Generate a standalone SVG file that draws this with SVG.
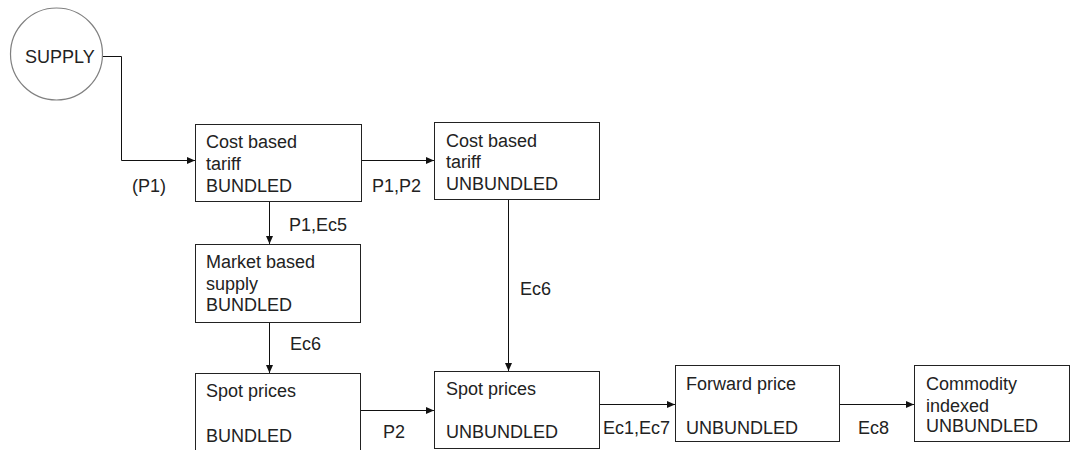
<svg xmlns="http://www.w3.org/2000/svg" width="1072" height="450" viewBox="0 0 1072 450">
  <style>
    .box { fill: #ffffff; stroke: #222222; stroke-width: 1; }
    .t { font-family: "Liberation Sans", Arial, sans-serif; font-size: 18px; fill: #222222; }
    .c { fill: none; stroke: #111111; stroke-width: 1; }
  </style>
  <defs>
    <marker id="arr" markerUnits="userSpaceOnUse" markerWidth="9" markerHeight="8" refX="8" refY="3.5" orient="auto">
      <path d="M0,0 L8,3.5 L0,7 z" fill="#111111"/>
    </marker>
  </defs>
  <rect width="1072" height="450" fill="#ffffff"/>

  <g id="connectors">
    <polyline class="c" points="102,56.5 121.5,56.5 121.5,160.5 195,160.5" marker-end="url(#arr)"/>
    <line class="c" x1="361" y1="160.5" x2="434" y2="160.5" marker-end="url(#arr)"/>
    <line class="c" x1="269.5" y1="202" x2="269.5" y2="244" marker-end="url(#arr)"/>
    <line class="c" x1="269.5" y1="323" x2="269.5" y2="373" marker-end="url(#arr)"/>
    <line class="c" x1="508.5" y1="200" x2="508.5" y2="371" marker-end="url(#arr)"/>
    <line class="c" x1="360" y1="410.5" x2="434" y2="410.5" marker-end="url(#arr)"/>
    <line class="c" x1="600" y1="404.5" x2="675" y2="404.5" marker-end="url(#arr)"/>
    <line class="c" x1="839" y1="404.5" x2="914" y2="404.5" marker-end="url(#arr)"/>
    <text class="t" x="132" y="191.5">(P1)</text>
    <text class="t" x="372" y="191.5">P1,P2</text>
    <text class="t" x="289" y="231">P1,Ec5</text>
    <text class="t" x="290" y="349.5">Ec6</text>
    <text class="t" x="520" y="294.5">Ec6</text>
    <text class="t" x="383" y="438">P2</text>
    <text class="t" x="603" y="434">Ec1,Ec7</text>
    <text class="t" x="858" y="434">Ec8</text>
  </g>

  <g id="supply">
    <circle cx="56.5" cy="54" r="46" fill="#ffffff" stroke="#808080" stroke-width="1.2"/>
    <text class="t" x="25" y="63">SUPPLY</text>
  </g>

  <g id="cost-bundled">
    <rect class="box" x="195.5" y="124.5" width="166" height="77"/>
    <text class="t" x="206" y="148">Cost based</text>
    <text class="t" x="206" y="170">tariff</text>
    <text class="t" x="206" y="191.5">BUNDLED</text>
  </g>

  <g id="cost-unbundled">
    <rect class="box" x="434.5" y="122.5" width="165" height="77"/>
    <text class="t" x="446" y="146.5">Cost based</text>
    <text class="t" x="446" y="168">tariff</text>
    <text class="t" x="446" y="189.5">UNBUNDLED</text>
  </g>

  <g id="market-bundled">
    <rect class="box" x="195.5" y="244.5" width="165" height="78"/>
    <text class="t" x="206" y="268">Market based</text>
    <text class="t" x="206" y="289.5">supply</text>
    <text class="t" x="206" y="311">BUNDLED</text>
  </g>

  <g id="spot-bundled">
    <rect class="box" x="195.5" y="373.5" width="165" height="82"/>
    <text class="t" x="206" y="397">Spot prices</text>
    <text class="t" x="206" y="441.5">BUNDLED</text>
  </g>

  <g id="spot-unbundled">
    <rect class="box" x="434.5" y="371.5" width="165" height="77"/>
    <text class="t" x="446" y="394.5">Spot prices</text>
    <text class="t" x="446" y="438">UNBUNDLED</text>
  </g>

  <g id="forward">
    <rect class="box" x="675.5" y="365.5" width="164" height="76"/>
    <text class="t" x="686" y="390">Forward price</text>
    <text class="t" x="686" y="434">UNBUNDLED</text>
  </g>

  <g id="commodity">
    <rect class="box" x="914.5" y="365.5" width="155" height="76"/>
    <text class="t" x="926" y="390">Commodity</text>
    <text class="t" x="926" y="411.5">indexed</text>
    <text class="t" x="926" y="432">UNBUNDLED</text>
  </g>
</svg>
